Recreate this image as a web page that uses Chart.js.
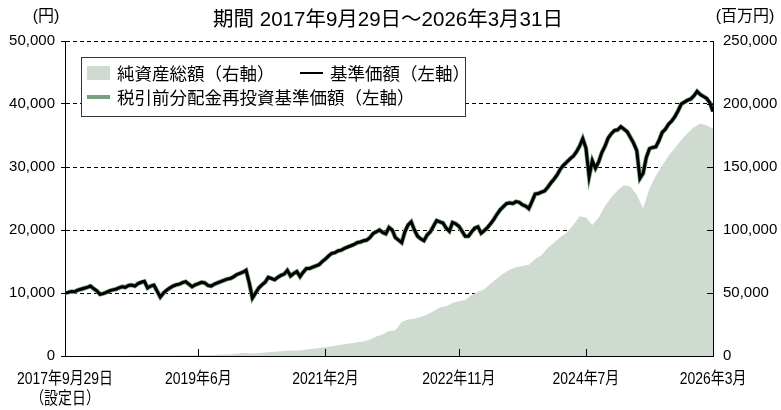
<!DOCTYPE html>
<html lang="ja">
<head>
<meta charset="utf-8">
<title>基準価額・純資産の推移</title>
<script src="https://cdn.jsdelivr.net/npm/chart.js@4/dist/chart.umd.min.js"></script>
<style>
  html, body { margin: 0; padding: 0; background: #fff; }
  #wrap { width: 781px; height: 410px; }
</style>
</head>
<body>
<div id="wrap"><canvas id="navChart"></canvas></div>
<script>
// 読み取り値（2017年9月 ～ 2026年3月）。x は設定月からの月数
const titleText = '期間 2017年9月29日～2026年3月31日';
const leftUnit = '(円)';
const rightUnit = '(百万円)';

const xTickIndex = [0, 21, 41, 62, 82, 102];
const xTickLabels = [['2017年9月29日', '（設定日）'], '2019年6月', '2021年2月', '2022年11月', '2024年7月', '2026年3月'];
const leftTicks = [0, 10000, 20000, 30000, 40000, 50000];
const rightTicks = [0, 50000, 100000, 150000, 200000, 250000];

// 基準価額（円）: 半月ごと、1行 = 6か月
const nav = [
    10000, 10100, 10250, 10200, 10450, 10600, 10750, 10900, 11100, 10700, 10350, 9800,
    9900, 10100, 10350, 10500, 10600, 10800, 11000, 10900, 11200, 11270, 11100, 11500,
    11700, 11850, 10800, 11100, 11250, 10300, 9350, 10000, 10450, 10800, 11100, 11300,
    11400, 11650, 11800, 11400, 11000, 11300, 11500, 11700, 11600, 11200, 11100, 11400,
    11600, 11800, 12000, 12200, 12300, 12550, 12900, 13100, 13300, 13600, 11600, 9200,
    10000, 10800, 11300, 11700, 12500, 12300, 12100, 12500, 12800, 13000, 13600, 12700,
    13100, 13400, 12600, 13300, 13900, 13900, 14100, 14300, 14500, 15000, 15400, 15900,
    16300, 16400, 16700, 16800, 17100, 17300, 17500, 17700, 18000, 18100, 18300, 18400,
    18800, 19450, 19700, 20000, 19600, 19400, 20400, 20000, 18800, 18400, 18000, 19700,
    20800, 21300, 20000, 19000, 18600, 18300, 19200, 19700, 20600, 21500, 21300, 21100,
    20300, 19800, 21200, 21000, 20600, 19800, 19000, 19000, 19700, 20300, 20500, 19500,
    19900, 20400, 21000, 21700, 22500, 23200, 23700, 24200, 24300, 24200, 24500, 24400,
    24000, 23800, 23400, 24500, 25700, 25800, 26000, 26200, 26800, 27500, 28100, 28800,
    29700, 30300, 30800, 31300, 31700, 32400, 33300, 34500, 33000, 28500, 31000, 29800,
    30800, 32300, 33300, 34600, 35300, 35800, 35900, 36400, 36000, 35600, 34700, 33800,
    32600, 28200, 29000, 31500, 32900, 33100, 33200, 34200, 35500, 36000, 36800, 37300,
    38000, 38900, 40000, 40300, 40600, 40800, 41300, 42000, 41500, 41200, 40900, 40200,
    38800
];

// 税引前分配金再投資基準価額（円）: 分配実績がないため基準価額と同じ値
const navReinvested = nav.slice();

// 純資産総額（百万円）: 月ごと、1行 = 1年（2017年は9～12月）
const netAssets = [
    30, 60, 90, 120,
    150, 170, 180, 200, 230, 260, 290, 320, 350, 340, 380, 350,
    420, 460, 500, 540, 540, 620, 700, 780, 900, 1100, 1400, 1800,
    2300, 2200, 1900, 2600, 3000, 3300, 3700, 4200, 4300, 4400, 5200, 5800,
    6300, 6900, 7800, 8500, 9300, 10200, 11000, 11600, 13000, 15500, 17000, 19800,
    20500, 27000, 29000, 29500, 31000, 33000, 35500, 38500, 39500, 42000, 43500, 44500,
    48500, 51000, 53000, 57500, 61500, 65500, 68500, 70500, 71500, 72500, 77000, 80000,
    86000, 90000, 94500, 98000, 104000, 111000, 110000, 104000, 110000, 119000, 126000, 131500,
    135500, 134500, 128000, 117000, 133000, 143000, 151000, 159000, 165000, 171500, 177000, 181500,
    184500, 183000, 180500
];

const AREA_COLOR = '#cfdbd0';
const GREEN = '#76a07e';
const JP_FONT = '"Liberation Sans", Arial, "Noto Sans CJK JP", sans-serif';

const navPoints = arr => arr.map((v, i) => ({ x: i / 2, y: v }));
const monthPoints = arr => arr.map((v, i) => ({ x: i, y: v }));

// タイトル・単位・横軸ラベル・内向き目盛・凡例枠を描く
const chartDecor = {
    id: 'chartDecor',
    afterDraw(chart) {
        const { ctx, chartArea: a, scales } = chart;
        ctx.save();
        ctx.fillStyle = '#000';
        ctx.textBaseline = 'middle';
        ctx.textAlign = 'center';

        ctx.font = '20.5px ' + JP_FONT;
        ctx.fillText(titleText, 388, 20);

        ctx.font = '16px ' + JP_FONT;
        ctx.fillText(leftUnit, 46, 17);
        ctx.fillText(rightUnit, 745, 17);

        // 横軸ラベル（縦長の字形に合わせて横方向を詰める）
        ctx.font = '17px ' + JP_FONT;
        xTickIndex.forEach((v, i) => {
            const px = scales.x.getPixelForValue(v);
            [].concat(xTickLabels[i]).forEach((t, j) => {
                ctx.save();
                ctx.translate(px, a.bottom + 23 + j * 20);
                ctx.scale(0.82, 1);
                ctx.fillText(t, 0, 0);
                ctx.restore();
            });
        });

        // 内向きの目盛
        ctx.strokeStyle = '#000';
        ctx.lineWidth = 1;
        ctx.beginPath();
        xTickIndex.slice(1, -1).forEach(v => {
            const px = Math.round(scales.x.getPixelForValue(v)) + 0.5;
            ctx.moveTo(px, a.bottom);
            ctx.lineTo(px, a.bottom - 7);
        });
        rightTicks.slice(1, -1).forEach(v => {
            const py = Math.round(scales.y1.getPixelForValue(v)) + 0.5;
            ctx.moveTo(a.right, py);
            ctx.lineTo(a.right - 6, py);
        });
        ctx.stroke();

        // 凡例
        const bx = a.left + 16, by = a.top + 16, bw = 384, bh = 59;
        ctx.fillStyle = '#fff';
        ctx.fillRect(bx, by, bw, bh);
        ctx.strokeStyle = '#333';
        ctx.strokeRect(bx + 0.5, by + 0.5, bw, bh);

        const ds = chart.data.datasets;
        const row1 = by + 16, row2 = by + 40;
        ctx.font = '17.5px "Noto Sans CJK JP", sans-serif';
        ctx.textAlign = 'left';

        ctx.fillStyle = AREA_COLOR;
        ctx.fillRect(bx + 6, row1 - 7, 23, 14);
        ctx.fillStyle = '#000';
        ctx.fillText(ds[2].label, bx + 36, row1);

        ctx.lineWidth = 2;
        ctx.strokeStyle = '#000';
        ctx.beginPath();
        ctx.moveTo(bx + 219, row1);
        ctx.lineTo(bx + 242, row1);
        ctx.stroke();
        ctx.fillText(ds[0].label, bx + 249, row1);

        ctx.lineWidth = 4;
        ctx.strokeStyle = GREEN;
        ctx.beginPath();
        ctx.moveTo(bx + 6, row2);
        ctx.lineTo(bx + 29, row2);
        ctx.stroke();
        ctx.fillText(ds[1].label, bx + 36, row2);

        ctx.restore();
    }
};

class NavChart {
    constructor(canvasId) {
        this.ctx = document.getElementById(canvasId);
        this.init();
    }

    init() {
        this.chart = new Chart(this.ctx, {
            type: 'line',
            data: {
                datasets: [{
                    label: '基準価額（左軸）',
                    data: navPoints(nav),
                    yAxisID: 'y',
                    borderColor: '#000',
                    borderWidth: 3,
                    pointRadius: 0,
                    tension: 0,
                    order: 0
                }, {
                    label: '税引前分配金再投資基準価額（左軸）',
                    data: navPoints(navReinvested),
                    yAxisID: 'y',
                    borderColor: GREEN,
                    borderWidth: 4.5,
                    pointRadius: 0,
                    tension: 0,
                    order: 1
                }, {
                    label: '純資産総額（右軸）',
                    data: monthPoints(netAssets),
                    yAxisID: 'y1',
                    borderWidth: 0,
                    backgroundColor: AREA_COLOR,
                    fill: 'origin',
                    pointRadius: 0,
                    tension: 0,
                    order: 2
                }]
            },
            options: {
                responsive: true,
                maintainAspectRatio: false,
                animation: false,
                events: [],
                layout: { padding: { top: 41, left: 0, right: 0, bottom: 0 } },
                plugins: {
                    legend: { display: false },
                    tooltip: { enabled: false },
                    title: { display: false }
                },
                scales: {
                    x: {
                        type: 'linear',
                        min: 0,
                        max: xTickIndex[xTickIndex.length - 1],
                        afterBuildTicks: scale => {
                            scale.ticks = xTickIndex.map(v => ({ value: v }));
                        },
                        afterFit: scale => { scale.height = 54; },
                        grid: { display: false, drawTicks: false },
                        border: { display: true, color: '#000', width: 1 },
                        ticks: { display: false }
                    },
                    y: {
                        position: 'left',
                        min: 0,
                        max: 50000,
                        afterBuildTicks: scale => {
                            scale.ticks = leftTicks.map(v => ({ value: v }));
                        },
                        afterFit: scale => { scale.width = 65; },
                        grid: {
                            color: '#000',
                            lineWidth: 1,
                            drawTicks: true,
                            tickLength: 4,
                            tickColor: '#000'
                        },
                        border: { display: true, color: '#000', width: 1, dash: [4, 3] },
                        ticks: {
                            padding: 6,
                            color: '#000',
                            font: { family: JP_FONT, size: 15 },
                            callback: value => value.toLocaleString('en-US')
                        }
                    },
                    y1: {
                        position: 'right',
                        min: 0,
                        max: 250000,
                        afterBuildTicks: scale => {
                            scale.ticks = rightTicks.map(v => ({ value: v }));
                        },
                        afterFit: scale => { scale.width = 68; },
                        grid: { drawOnChartArea: false, drawTicks: false },
                        border: { display: true, color: '#000', width: 1 },
                        ticks: {
                            padding: 10,
                            color: '#000',
                            font: { family: JP_FONT, size: 15 },
                            callback: value => value.toLocaleString('en-US')
                        }
                    }
                }
            },
            plugins: [chartDecor]
        });
    }
}

document.addEventListener('DOMContentLoaded', () => {
    new NavChart('navChart');
});
</script>
</body>
</html>
